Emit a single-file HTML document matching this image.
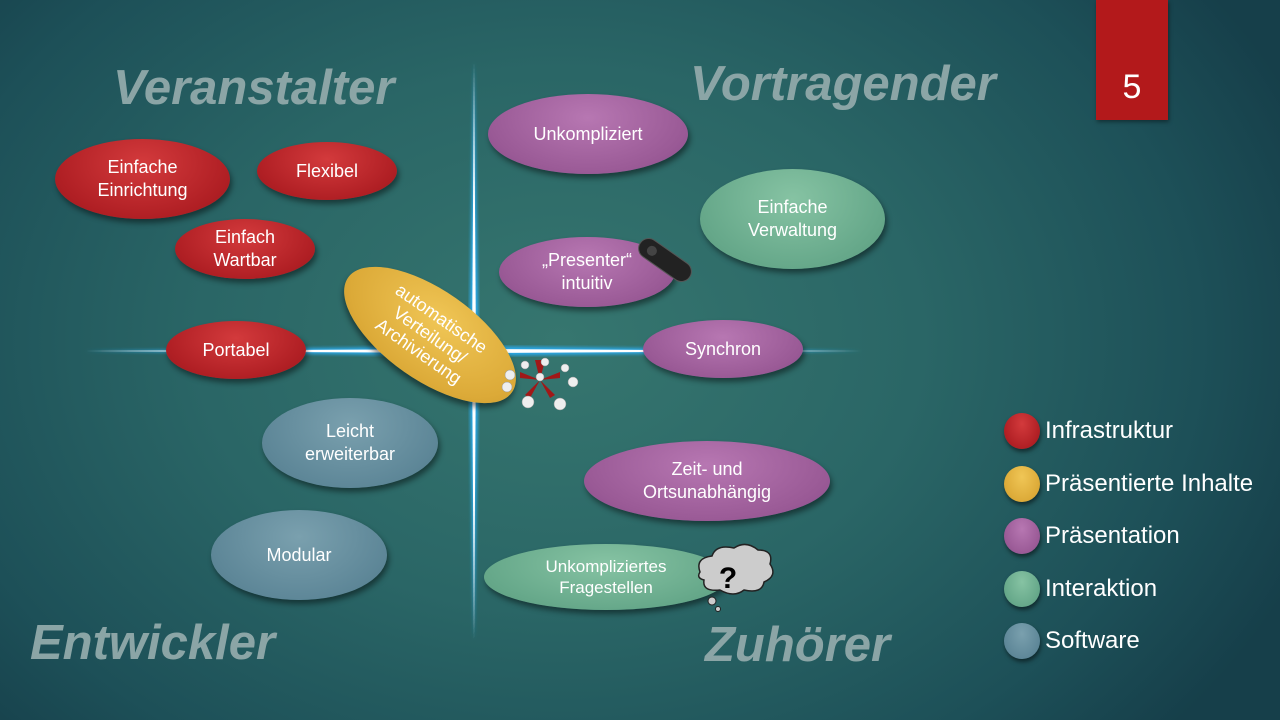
<!DOCTYPE html>
<html><head><meta charset="utf-8"><style>
html,body{margin:0;padding:0}
body{width:1280px;height:720px;position:relative;overflow:hidden;font-family:"Liberation Sans",sans-serif;
background:radial-gradient(ellipse 800px 600px at 560px 340px,#36766f 0%,#2a6666 45%,#1d5058 80%,#163f4a 100%);}
.t{position:absolute;font-weight:bold;font-style:italic;color:#8ba5a6;font-size:49px;white-space:nowrap}
.e{position:absolute;border-radius:50%;display:flex;align-items:center;justify-content:center;text-align:center;color:#fff;font-size:18px;line-height:23px;box-shadow:2px 4px 6px rgba(0,0,0,.45)}
.r{background:radial-gradient(ellipse at 50% 30%,#d33a3c,#b01f24 70%,#981a1e)}
.b{background:radial-gradient(ellipse at 50% 30%,#7aa0ae,#5e8798 70%,#53798a)}
.p{background:radial-gradient(ellipse at 50% 30%,#b777b2,#9a5a96 70%,#86498a)}
.g{background:radial-gradient(ellipse at 50% 30%,#86c3a3,#66a88a 70%,#5a9a7c)}
.y{background:radial-gradient(ellipse at 50% 30%,#f0c656,#dcaa38 70%,#c9962a)}
.lc{position:absolute;left:1004px;width:36px;height:36px;border-radius:50%;box-shadow:1px 3px 4px rgba(0,0,0,.5)}
.lt{position:absolute;left:1045px;color:#fff;font-size:24px}
</style></head><body>
<svg width="1280" height="720" style="position:absolute;left:0;top:0">
<defs><filter id="gl"><feGaussianBlur stdDeviation="1.5"/></filter></defs>
<polygon points="474,62 479,351 474,640 469,351" fill="#2aa8e8" filter="url(#gl)"/>
<polygon points="474,62 476,351 474,640 472,351" fill="#fff"/>
<polygon points="85,351 474,346 862,351 474,356" fill="#2aa8e8" filter="url(#gl)"/>
<polygon points="85,351 474,349 862,351 474,353" fill="#fff"/>
</svg>
<div class="t" style="left:113px;top:60px">Veranstalter</div>
<div class="t" style="left:690px;top:56px">Vortragender</div>
<div class="t" style="left:30px;top:615px">Entwickler</div>
<div class="t" style="left:705px;top:617px">Zuhörer</div>
<div style="position:absolute;left:1096px;top:0;width:72px;height:120px;background:#b3191b;color:#fff;font-size:34px;text-align:center;line-height:174px;box-shadow:1px 2px 4px rgba(0,0,0,.4)">5</div>

<div class="e r" style="left:55px;top:139px;width:175px;height:80px">Einfache<br>Einrichtung</div>
<div class="e r" style="left:257px;top:142px;width:140px;height:58px">Flexibel</div>
<div class="e r" style="left:175px;top:219px;width:140px;height:60px">Einfach<br>Wartbar</div>
<div class="e r" style="left:166px;top:321px;width:140px;height:58px">Portabel</div>
<div class="e b" style="left:262px;top:398px;width:176px;height:90px">Leicht<br>erweiterbar</div>
<div class="e b" style="left:211px;top:510px;width:176px;height:90px">Modular</div>
<div class="e p" style="left:488px;top:94px;width:200px;height:80px">Unkompliziert</div>
<div class="e g" style="left:700px;top:169px;width:185px;height:100px">Einfache<br>Verwaltung</div>
<div class="e p" style="left:499px;top:237px;width:176px;height:70px">„Presenter“<br>intuitiv</div>
<div class="e p" style="left:643px;top:320px;width:160px;height:58px">Synchron</div>
<div class="e p" style="left:584px;top:441px;width:246px;height:80px">Zeit- und<br>Ortsunabhängig</div>
<div class="e g" style="left:484px;top:544px;width:244px;height:66px;font-size:17px;line-height:21px">Unkompliziertes<br>Fragestellen</div>
<div class="e y" style="left:330px;top:290px;width:200px;height:90px;transform:rotate(35deg);font-size:18px;line-height:20px">automatische<br>Verteilung/<br>Archivierung</div>

<svg width="1280" height="720" style="position:absolute;left:0;top:0">
<g transform="translate(665,260) rotate(35)">
<rect x="-30" y="-10" width="60" height="20" rx="10" fill="#222" stroke="#555"/>
<circle cx="-16" cy="0" r="5" fill="#444"/>
</g>
<g fill="#a01818"><polygon points="540,380 520,372 520,378"/><polygon points="540,380 560,372 560,378"/><polygon points="540,380 525,395 530,398"/><polygon points="540,380 555,395 550,398"/><polygon points="540,380 535,360 545,360"/></g>
<g fill="#eee" stroke="#999" stroke-width=".5">
<circle cx="510" cy="375" r="5"/><circle cx="507" cy="387" r="5"/><circle cx="528" cy="402" r="6"/><circle cx="560" cy="404" r="6"/><circle cx="573" cy="382" r="5"/><circle cx="565" cy="368" r="4"/><circle cx="545" cy="362" r="4"/><circle cx="525" cy="365" r="4"/><circle cx="540" cy="377" r="4"/>
</g>
<g>
<path d="M700,572 q-5,-14 12,-16 q4,-12 22,-8 q12,-8 24,2 q16,0 12,14 q8,12 -6,18 q-2,12 -20,8 q-10,8 -24,0 q-18,2 -16,-10 q-8,-2 -4,-8z" fill="#ccc" stroke="#222" stroke-width="1.5"/>
<circle cx="712" cy="601" r="4" fill="#ccc" stroke="#222"/><circle cx="718" cy="609" r="2.5" fill="#ccc" stroke="#222"/>
<text x="728" y="588" font-family="Liberation Sans" font-weight="bold" font-size="30" text-anchor="middle" fill="#000">?</text>
</g>
</svg>

<div class="lc r" style="top:413px"></div><div class="lt" style="top:417px">Infrastruktur</div>
<div class="lc y" style="top:466px"></div><div class="lt" style="top:470px">Präsentierte Inhalte</div>
<div class="lc p" style="top:518px"></div><div class="lt" style="top:522px">Präsentation</div>
<div class="lc g" style="top:571px"></div><div class="lt" style="top:575px">Interaktion</div>
<div class="lc b" style="top:623px"></div><div class="lt" style="top:627px">Software</div>
</body></html>
